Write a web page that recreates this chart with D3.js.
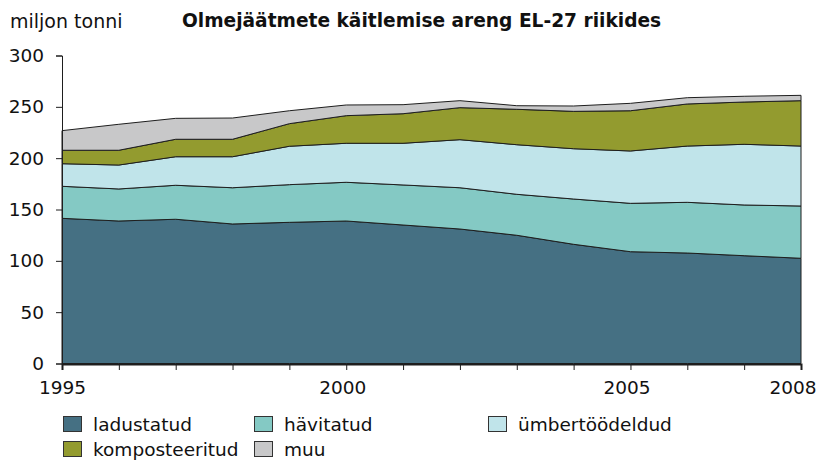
<!DOCTYPE html>
<html>
<head>
<meta charset="utf-8">
<title>Olmejäätmete käitlemise areng EL-27 riikides</title>
<script src="https://d3js.org/d3.v7.min.js"></script>
<style>
  body { margin: 0; background: #fff; }
  svg { display: block; font-family: "DejaVu Sans", Verdana, sans-serif; }
</style>
</head>
<body>
<svg width="818" height="461"></svg>
<script>
// data (million tonnes)
const years = [1995, 1996, 1997, 1998, 1999, 2000, 2001, 2002, 2003, 2004, 2005, 2006, 2007, 2008];
const ladustatud = [141.4, 138.8, 140.5, 135.9, 137.5, 138.8, 134.9, 131.0, 124.9, 116.1, 108.9, 107.6, 105.0, 102.5];
const havitatud = [31.2, 31.2, 33.1, 35.3, 36.7, 37.7, 39.0, 40.2, 39.9, 44.1, 47.1, 49.4, 49.4, 50.9];
const umbertoodeldud = [22.0, 23.3, 27.8, 30.2, 37.4, 38.0, 40.6, 46.8, 48.3, 49.0, 51.0, 54.8, 59.1, 58.4];
const komposteeritud = [13.1, 14.4, 17.0, 17.0, 22.0, 26.9, 28.8, 31.2, 34.5, 36.4, 39.2, 41.0, 41.2, 44.2];
const muu = [19.1, 25.3, 20.4, 20.7, 12.6, 10.4, 8.8, 6.8, 3.5, 5.2, 7.2, 6.1, 5.6, 5.2];

const seriesNames = ["ladustatud", "hävitatud", "ümbertöödeldud", "komposteeritud", "muu"];
const seriesValues = [ladustatud, havitatud, umbertoodeldud, komposteeritud, muu];
const colors = ["#457083", "#84c9c4", "#c0e4ea", "#939b2f", "#c8c8c9"];
const yTicks = [0, 50, 100, 150, 200, 250, 300];
const xLabels = [1995, 2000, 2005, 2008];

const svg = d3.select("svg");

const rows = years.map((y, i) => {
  const r = { year: y };
  seriesNames.forEach((n, k) => { r[n] = seriesValues[k][i]; });
  return r;
});

const x = d3.scaleLinear().domain([1995, 2008]).range([62, 801]);
const y = d3.scaleLinear().domain([0, 300]).range([363.5, 55.5]);

const stack = d3.stack().keys(seriesNames);
const layers = stack(rows);

const area = d3.area()
  .x(d => x(d.data.year))
  .y0(d => y(d[0]))
  .y1(d => y(d[1]));

svg.append("g")
  .selectAll("path")
  .data(layers)
  .enter()
  .append("path")
  .attr("d", area)
  .attr("fill", (d, i) => colors[i])
  .attr("stroke", "#1e1e1e")
  .attr("stroke-width", 1)
  .attr("stroke-linejoin", "round");

// y axis
const yAxis = svg.append("g")
  .attr("transform", "translate(62,0)")
  .call(d3.axisLeft(y).tickValues(yTicks).tickSize(6).tickPadding(12));
yAxis.select(".domain").attr("stroke", "#1e1e1e");
yAxis.selectAll(".tick line").attr("stroke", "#1e1e1e");
yAxis.selectAll("text").attr("font-size", 18.5).attr("fill", "#111")
  .attr("font-family", "DejaVu Sans");

// x axis
const xAxis = svg.append("g")
  .attr("transform", "translate(0,364)")
  .call(d3.axisBottom(x).tickValues(years).tickSize(6).tickPadding(11)
    .tickFormat(d => xLabels.includes(d) ? d : ""));
xAxis.select(".domain").attr("stroke", "#1e1e1e").attr("stroke-width", 2);
xAxis.selectAll(".tick line").attr("stroke", "#1e1e1e");
xAxis.selectAll("text").attr("font-size", 18.5).attr("fill", "#111")
  .attr("font-family", "DejaVu Sans");
// last label is pulled in so it stays inside the frame
xAxis.selectAll(".tick").filter(d => d === 2008).select("text")
  .attr("text-anchor", "end").attr("x", 15);
xAxis.selectAll(".tick").filter(d => d === 2000 || d === 2005).select("text")
  .attr("x", -4);

// unit and title
svg.append("text")
  .attr("x", 10).attr("y", 28)
  .attr("font-size", 19).attr("fill", "#111")
  .text("miljon tonni");

svg.append("text")
  .attr("x", 182).attr("y", 27)
  .attr("font-size", 18.6).attr("font-weight", "bold").attr("fill", "#111")
  .text("Olmejäätmete käitlemise areng EL-27 riikides");

// legend
const legendPos = [
  { x: 63, y: 416 }, { x: 254, y: 416 }, { x: 488, y: 416 },
  { x: 63, y: 441 }, { x: 254, y: 441 }
];
const legend = svg.append("g")
  .selectAll("g")
  .data(seriesNames)
  .enter()
  .append("g")
  .attr("transform", (d, i) => `translate(${legendPos[i].x},${legendPos[i].y})`);

legend.append("rect")
  .attr("x", 0.5).attr("y", 0.5)
  .attr("width", 18).attr("height", 15)
  .attr("fill", (d, i) => colors[i])
  .attr("stroke", "#333");

legend.append("text")
  .attr("x", 30).attr("y", 15)
  .attr("font-size", 18.5).attr("fill", "#111")
  .text(d => d);
</script>
</body>
</html>
